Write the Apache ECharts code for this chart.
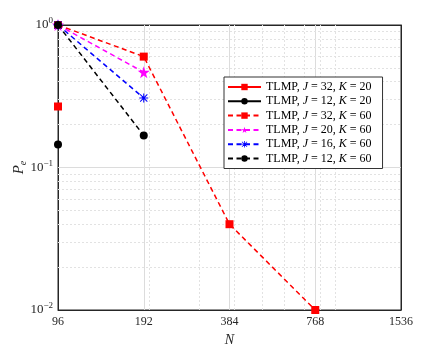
<!DOCTYPE html>
<html>
<head>
<meta charset="utf-8">
<script src="https://cdn.jsdelivr.net/npm/echarts@6/dist/echarts.min.js"></script>
<style>
  html, body { margin: 0; padding: 0; background: #fff; }
  #main { width: 443px; height: 349px; }
</style>
</head>
<body>
<div id="main"></div>
<script>
// x ticks (log2 axis) and grid positions
const xTicks = [96, 192, 384, 768, 1536]
const xMinorGrid = [200, 300, 400, 500, 600, 700, 800, 900]
const yMajorGrid = [0.1]
const yMinorGrid = [0.02, 0.03, 0.04, 0.05, 0.06, 0.07, 0.08, 0.09,
  0.2, 0.3, 0.4, 0.5, 0.6, 0.7, 0.8, 0.9]

// data
const nK20 = [96]
const peJ32K20 = [0.268]
const peJ12K20 = [0.145]
const nK60 = [96, 192, 384, 768]
const peJ32K60 = [1, 0.6, 0.040, 0.01]
const peJ20K60 = [1, 0.466]
const peJ16K60 = [1, 0.307]
const peJ12K60 = [1, 0.168]

const FONT = 'Liberation Serif'
const AXIS = '#262626'

const star = 'path://M50,0 L61,35 L98,35 L68,57 L79,91 L50,70 L21,91 L32,57 L2,35 L39,35 Z'
const asterisk = 'path://M44,0 L56,0 L56,100 L44,100 Z M0,44 L100,44 L100,56 L0,56 Z M6,14 L14,6 L94,86 L86,94 Z M86,6 L94,14 L14,94 L6,86 Z'

const zip = (xs, ys) => ys.map((y, i) => [xs[i], y])

function mk(name, xs, ys, color, dashed, symbol, size) {
  return {
    name: name,
    type: 'line',
    data: zip(xs, ys),
    symbol: symbol,
    symbolSize: size,
    showAllSymbol: true,
    lineStyle: { color: color, width: 1.5, type: dashed ? [5, 3.5] : 'solid' },
    itemStyle: { color: color },
    emphasis: { disabled: true },
    z: 5
  }
}

const gridLines = {
  name: 'grid',
  type: 'line',
  data: [],
  silent: true,
  z: 1,
  markLine: {
    silent: true,
    z: 1,
    symbol: 'none',
    label: { show: false },
    animation: false,
    data: [
      ...xTicks.slice(1, 4).map(v => ({ xAxis: v, lineStyle: { color: '#dcdcdc', type: 'solid', width: 1 } })),
      ...xMinorGrid.map(v => ({ xAxis: v, lineStyle: { color: '#e2e2e2', type: [2, 2], width: 1 } })),
      ...yMajorGrid.map(v => ({ yAxis: v, lineStyle: { color: '#dcdcdc', type: 'solid', width: 1 } })),
      ...yMinorGrid.map(v => ({ yAxis: v, lineStyle: { color: '#e2e2e2', type: [2, 2], width: 1 } }))
    ]
  }
}

const legendRich = {
  n: { fontFamily: FONT, fontSize: 12, lineHeight: 12, color: '#000' },
  i: { fontFamily: FONT, fontSize: 12, lineHeight: 12, fontStyle: 'italic', color: '#000' }
}
function legendFmt(name) {
  const m = name.match(/J = (\d+), K = (\d+)/)
  return '{n|TLMP, }{i|J}{n| = ' + m[1] + ', }{i|K}{n| = ' + m[2] + '}'
}

const myChart = echarts.init(document.getElementById('main'))
const option = {
  animation: false,
  grid: { left: 58, right: 42, top: 25, bottom: 39, show: true, borderColor: AXIS, borderWidth: 1, outerBoundsMode: 'none' },
  legend: {
    orient: 'vertical',
    left: 224, top: 77,
    z: 10,
    backgroundColor: '#fff',
    borderColor: '#333',
    borderWidth: 1,
    padding: [4, 11, 4, 3],
    itemWidth: 33, itemHeight: 8, itemGap: 2.3,
    formatter: legendFmt,
    textStyle: { rich: legendRich, padding: [0, 0, 0, 0] },
    data: ['TLMP, J = 32, K = 20', 'TLMP, J = 12, K = 20', 'TLMP, J = 32, K = 60',
      'TLMP, J = 20, K = 60', 'TLMP, J = 16, K = 60', 'TLMP, J = 12, K = 60']
  },
  xAxis: [{
    type: 'log', logBase: 2, min: 96, max: 1536,
    name: 'N', nameLocation: 'middle', nameGap: 23,
    nameTextStyle: { fontFamily: FONT, fontStyle: 'italic', fontSize: 14, color: '#262626' },
    axisLine: { lineStyle: { color: AXIS } },
    axisTick: { inside: true, length: 4, lineStyle: { color: AXIS }, customValues: xTicks },
    axisLabel: { customValues: xTicks, fontFamily: FONT, fontSize: 12, color: '#262626', margin: 6, formatter: v => String(Math.round(v)) },
    splitLine: { show: false }
  }, {
    type: 'log', logBase: 2, min: 96, max: 1536, position: 'top',
    axisLine: { lineStyle: { color: AXIS } },
    axisTick: { inside: true, length: 4, lineStyle: { color: AXIS }, customValues: xTicks },
    axisLabel: { show: false },
    splitLine: { show: false }
  }],
  yAxis: [{
    type: 'log', logBase: 10, min: 0.01, max: 1,
    name: '{p|P}{e|e}', nameLocation: 'middle', nameGap: 30, nameRotate: 90,
    nameMoveOverlap: false,
    nameTextStyle: { rich: {
      p: { fontFamily: FONT, fontStyle: 'italic', fontSize: 15, color: '#262626' },
      e: { fontFamily: FONT, fontStyle: 'italic', fontSize: 10, color: '#262626', verticalAlign: 'bottom', padding: [7, 0, 0, 0] }
    } },
    axisLine: { lineStyle: { color: AXIS } },
    axisTick: { inside: true, length: 4, lineStyle: { color: AXIS } },
    axisLabel: {
      fontFamily: FONT, fontSize: 12, color: '#262626', margin: 5,
      formatter: v => '{b|10}{s|' + String(Math.round(Math.log10(v))).replace('-', '−') + '}',
      rich: {
        b: { fontFamily: FONT, fontSize: 13, color: '#262626' },
        s: { fontFamily: FONT, fontSize: 9, color: '#262626', padding: [0, 0, 8, 0] }
      }
    },
    splitLine: { show: false }
  }, {
    type: 'log', logBase: 10, min: 0.01, max: 1, position: 'right',
    axisLine: { lineStyle: { color: AXIS } },
    axisTick: { inside: true, length: 4, lineStyle: { color: AXIS } },
    axisLabel: { show: false },
    splitLine: { show: false }
  }],
  series: [
    gridLines,
    mk('TLMP, J = 32, K = 20', nK20, peJ32K20, '#ff0000', false, 'rect', 8),
    mk('TLMP, J = 12, K = 20', nK20, peJ12K20, '#000000', false, 'circle', 8),
    mk('TLMP, J = 32, K = 60', nK60, peJ32K60, '#ff0000', true, 'rect', 8),
    mk('TLMP, J = 20, K = 60', nK60, peJ20K60, '#ff00ff', true, star, 12),
    mk('TLMP, J = 16, K = 60', nK60, peJ16K60, '#0000ff', true, asterisk, 9),
    mk('TLMP, J = 12, K = 60', nK60, peJ12K60, '#000000', true, 'circle', 8)
  ]
}
myChart.setOption(option)
</script>
</body>
</html>
